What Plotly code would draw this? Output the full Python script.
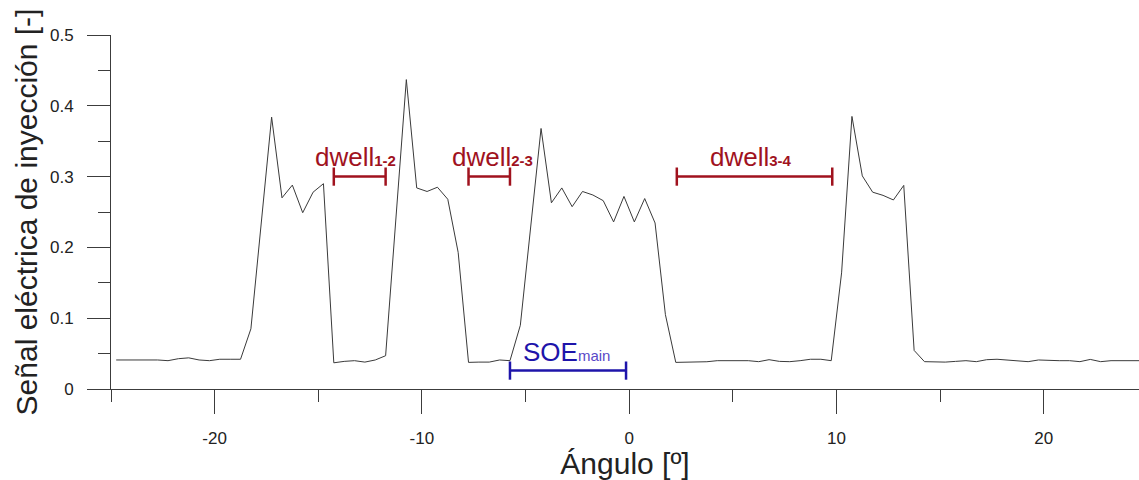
import plotly.graph_objects as go

# ---- data ----
angles = [
    -24.75, -24.25, -23.75, -23.25, -22.75, -22.25, -21.75, -21.25, -20.75, -20.25,
    -19.75, -19.25, -18.75, -18.25, -17.75, -17.25, -16.75, -16.25, -15.75, -15.25,
    -14.75, -14.25, -13.75, -13.25, -12.75, -12.25, -11.75, -11.25, -10.75, -10.25,
    -9.75, -9.25, -8.75, -8.25, -7.75, -7.25, -6.75, -6.25, -5.75, -5.25,
    -4.75, -4.25, -3.75, -3.25, -2.75, -2.25, -1.75, -1.25, -0.75, -0.25,
    0.25, 0.75, 1.25, 1.75, 2.25, 2.75, 3.25, 3.75, 4.25, 4.75,
    5.25, 5.75, 6.25, 6.75, 7.25, 7.75, 8.25, 8.75, 9.25, 9.75,
    10.25, 10.75, 11.25, 11.75, 12.25, 12.75, 13.25, 13.75, 14.25, 14.75,
    15.25, 15.75, 16.25, 16.75, 17.25, 17.75, 18.25, 18.75, 19.25, 19.75,
    20.25, 20.75, 21.25, 21.75, 22.25, 22.75, 23.25, 23.75, 24.25, 24.75,
]
signal = [
    0.041, 0.041, 0.0414, 0.0414, 0.041, 0.040, 0.0428, 0.044, 0.041, 0.040,
    0.042, 0.042, 0.042, 0.085, 0.232, 0.384, 0.270, 0.288, 0.249, 0.278,
    0.290, 0.037, 0.039, 0.040, 0.038, 0.041, 0.047, 0.239, 0.437, 0.284,
    0.279, 0.285, 0.268, 0.193, 0.0376, 0.038, 0.038, 0.041, 0.040, 0.090,
    0.230, 0.368, 0.263, 0.284, 0.2575, 0.279, 0.274, 0.266, 0.236, 0.272,
    0.236, 0.269, 0.2345, 0.105, 0.0376, 0.038, 0.039, 0.0385, 0.040, 0.040,
    0.040, 0.040, 0.0386, 0.0414, 0.039, 0.0386, 0.040, 0.042, 0.042, 0.040,
    0.164, 0.385, 0.301, 0.278, 0.2735, 0.267, 0.2876, 0.0545, 0.0386, 0.038,
    0.038, 0.039, 0.040, 0.0386, 0.0414, 0.042, 0.041, 0.040, 0.0386, 0.041,
    0.040, 0.040, 0.040, 0.0386, 0.0418, 0.0386, 0.040, 0.040, 0.041, 0.040,
]

# tick labels
x_tickvals = [-20, -10, 0, 10, 20]
x_ticktext = ["-20", "-10", "0", "10", "20"]
y_tickvals = [0, 0.1, 0.2, 0.3, 0.4, 0.5]
y_ticktext = ["0", "0.1", "0.2", "0.3", "0.4", "0.5"]

# interval markers (dwell times and SOE main)
interval_main = ["dwell", "dwell", "dwell", "SOE"]
interval_sub = ["1-2", "2-3", "3-4", "main"]
interval_start = [-14.25, -7.75, 2.3, -5.75]
interval_end = [-11.75, -5.75, 9.8, -0.15]
interval_level = [0.3, 0.3, 0.3, 0.026]
label_x = [-13.2, -6.6, 5.9, -3.0]
label_y = [0.328, 0.328, 0.328, 0.052]
interval_colors = ["#A0121E", "#A0121E", "#A0121E", "#1E14AA"]
sub_colors = ["#A0121E", "#A0121E", "#A0121E", "#5A48C8"]
sub_bold = [True, True, True, False]

x_title = "Ángulo [º]"
y_title = "Señal eléctrica de inyección [-]"

FONT = "Liberation Sans, Arial, sans-serif"
AXIS = "#3c3c3c"
TXT = "#222222"

fig = go.Figure()
fig.add_trace(go.Scatter(
    x=angles, y=signal, mode="lines",
    line=dict(color="#3a3a3a", width=1), showlegend=False, hoverinfo="skip",
))

for main, sub, xs, xe, lv, lx, ly, col, scol, bold in zip(
        interval_main, interval_sub, interval_start, interval_end, interval_level,
        label_x, label_y, interval_colors, sub_colors, sub_bold):
    fig.add_trace(go.Scatter(
        x=[xs, xe], y=[lv, lv], mode="lines+markers",
        line=dict(color=col, width=2.5),
        marker=dict(symbol="line-ns", size=13, line=dict(color=col, width=2.5)),
        showlegend=False, hoverinfo="skip",
    ))
    sub_txt = f"<b>{sub}</b>" if bold else sub
    text = f"{main}<span style='font-size:15px;fill:{scol}'>{sub_txt}</span>"
    fig.add_annotation(x=lx, y=ly, xref="x", yref="y", text=text, showarrow=False,
                       font=dict(family=FONT, size=26, color=col),
                       xanchor="center", yanchor="middle")

fig.update_layout(
    width=1139, height=480,
    margin=dict(l=111, r=0, t=35, b=91),
    paper_bgcolor="white", plot_bgcolor="white",
    font=dict(family=FONT, size=17, color=TXT),
    showlegend=False,
)
fig.update_xaxes(
    range=[-25, 24.6], tickvals=x_tickvals, ticktext=x_ticktext,
    showline=True, linecolor=AXIS, linewidth=1, mirror=False,
    ticks="outside", ticklen=24, tickcolor=AXIS, tickwidth=1,
    minor=dict(tick0=0, dtick=5, ticks="outside", ticklen=12, tickcolor=AXIS, tickwidth=1),
    showgrid=False, zeroline=False, automargin=False,
    tickfont=dict(family=FONT, size=17, color=TXT),
    ticklabelstandoff=10,
    title=dict(text=x_title, font=dict(family=FONT, size=30, color=TXT), standoff=3),
)
fig.update_yaxes(
    range=[0, 0.5], tickvals=y_tickvals, ticktext=y_ticktext,
    showline=True, linecolor=AXIS, linewidth=1, mirror=False,
    ticks="outside", ticklen=23, tickcolor=AXIS, tickwidth=1,
    minor=dict(tick0=0, dtick=0.05, ticks="outside", ticklen=12, tickcolor=AXIS, tickwidth=1),
    showgrid=False, zeroline=False, automargin=False,
    tickfont=dict(family=FONT, size=17, color=TXT),
    ticklabelstandoff=10,
    title=dict(text=y_title, font=dict(family=FONT, size=30, color=TXT), standoff=3),
)

fig.write_html("out.html", config={"displayModeBar": False},
               post_script="document.body.style.margin='0px';")
